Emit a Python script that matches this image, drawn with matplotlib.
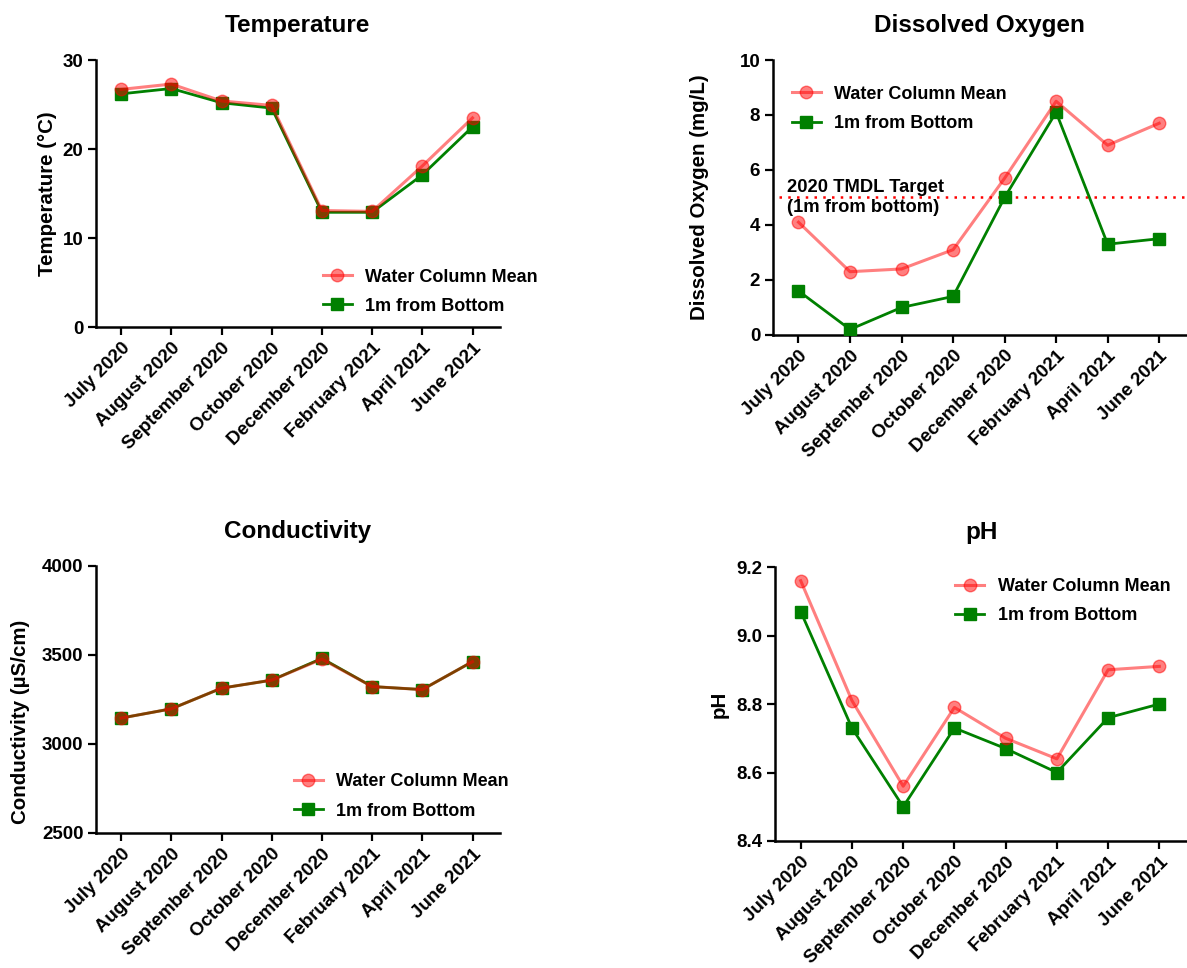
import numpy as np
import matplotlib
matplotlib.use('Agg')
import matplotlib.pyplot as plt

plt.rcParams['font.family'] = ['Liberation Sans', 'DejaVu Sans']
plt.rcParams['font.weight'] = 'bold'
plt.rcParams['axes.labelweight'] = 'bold'
plt.rcParams['axes.titleweight'] = 'bold'

months = ['July 2020', 'August 2020', 'September 2020', 'October 2020',
          'December 2020', 'February 2021', 'April 2021', 'June 2021']

temp_mean = [26.7, 27.3, 25.4, 24.9, 13.1, 13.0, 18.1, 23.5]
temp_bottom = [26.2, 26.8, 25.2, 24.6, 12.9, 12.9, 17.1, 22.5]

do_mean = [4.1, 2.3, 2.4, 3.1, 5.7, 8.5, 6.9, 7.7]
do_bottom = [1.6, 0.2, 1.0, 1.4, 5.0, 8.1, 3.3, 3.5]
do_target = 5.0

cond_mean = [3145, 3197, 3313, 3358, 3476, 3322, 3305, 3462]
cond_bottom = [3145, 3197, 3313, 3358, 3480, 3322, 3305, 3462]

ph_mean = [9.16, 8.81, 8.56, 8.79, 8.70, 8.64, 8.90, 8.91]
ph_bottom = [9.07, 8.73, 8.50, 8.73, 8.67, 8.60, 8.76, 8.80]

red = (1.0, 0.0, 0.0, 0.5)
green = '#008000'

fig = plt.figure(figsize=(11.87, 9.68), dpi=100)

# [left, bottom, width, height] in figure fraction
ax_t = fig.add_axes([0.0809, 0.662, 0.340, 0.276])
ax_d = fig.add_axes([0.651, 0.654, 0.349, 0.284])
ax_c = fig.add_axes([0.0809, 0.1395, 0.340, 0.276])
ax_p = fig.add_axes([0.653, 0.1312, 0.347, 0.283])

x = np.arange(len(months))


def draw(ax, mean, bottom, title, ylabel, ylim, yticks, fmt, leg_xy, ylab_xy):
    ax.plot(x, bottom, color=green, lw=2, marker='s', ms=9, label='1m from Bottom', zorder=3)
    ax.plot(x, mean, color=red, lw=2.2, marker='o', ms=9, markeredgecolor=red,
            markerfacecolor=red, label='Water Column Mean', zorder=4)
    ax.set_xlim(-0.5, 7.54)
    ax.set_ylim(*ylim)
    ax.set_yticks(yticks)
    ax.set_yticklabels([fmt.format(v) for v in yticks])
    ax.set_xticks(x)
    ax.set_xticklabels(months, rotation=45, ha='right', rotation_mode='anchor')
    for s in ['top', 'right']:
        ax.spines[s].set_visible(False)
    for s in ['left', 'bottom']:
        ax.spines[s].set_linewidth(1.8)
    ax.tick_params(direction='out', length=6, width=1.6, labelsize=13.5, pad=3)
    ax.set_title(title, fontsize=17.5, pad=20)
    ax.set_ylabel(ylabel, fontsize=14.8)
    ax.yaxis.set_label_coords(*ylab_xy)
    h, l = ax.get_legend_handles_labels()
    ax.legend(h[::-1], l[::-1], loc='center left', bbox_to_anchor=leg_xy, frameon=False,
              fontsize=13, borderpad=0, borderaxespad=0, handlelength=1.6,
              handletextpad=0.75, labelspacing=0.68)


draw(ax_t, temp_mean, temp_bottom, 'Temperature', 'Temperature (°C)', (0, 30),
     [0, 10, 20, 30], '{:g}', (0.562, 0.133), (-0.097, 0.5))
draw(ax_d, do_mean, do_bottom, 'Dissolved Oxygen', 'Dissolved Oxygen (mg/L)', (0, 10),
     [0, 2, 4, 6, 8, 10], '{:g}', (0.046, 0.822), (-0.155, 0.5))
draw(ax_c, cond_mean, cond_bottom, 'Conductivity', 'Conductivity (µS/cm)', (2500, 4000),
     [2500, 3000, 3500, 4000], '{:g}', (0.49, 0.137), (-0.163, 0.416))
draw(ax_p, ph_mean, ph_bottom, 'pH', 'pH', (8.4, 9.2),
     [8.4, 8.6, 8.8, 9.0, 9.2], '{:.1f}', (0.437, 0.876), (-0.112, 0.5))

ax_d.plot([-0.37, 7.54], [do_target, do_target], color='red', lw=1.8, ls=(0, (1, 2.5)),
          zorder=2, clip_on=False)
ax_d.text(-0.23, do_target, '2020 TMDL Target\n(1m from bottom)', fontsize=13.2,
          va='center', ha='left', linespacing=1.2)

plt.savefig('out.png', dpi=100)
